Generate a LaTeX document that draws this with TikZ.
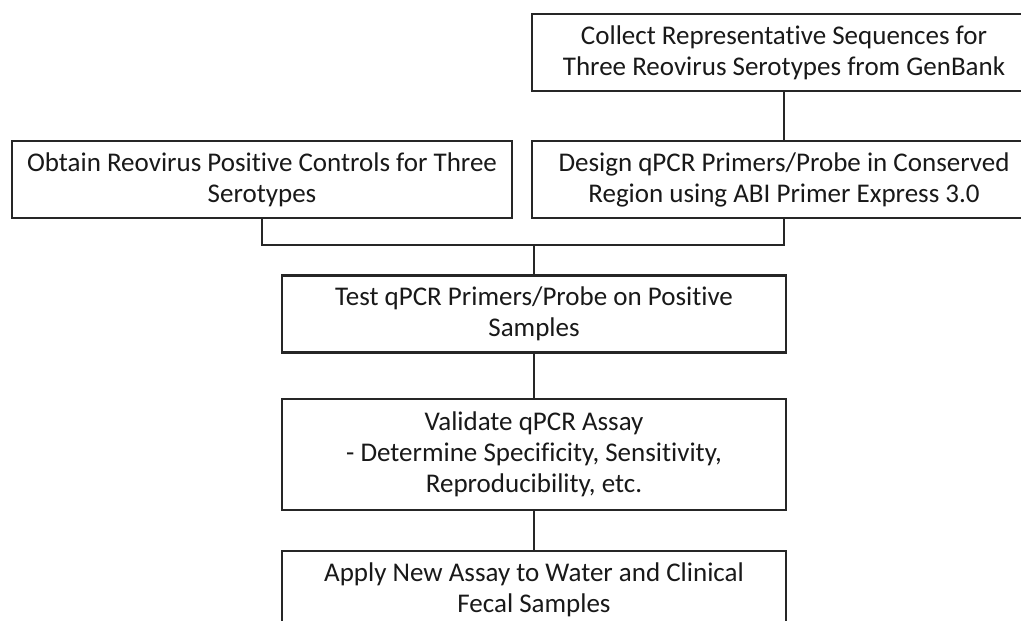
\documentclass[tikz,border=0pt]{standalone}
\usepackage{fontspec}
\setmainfont{Carlito}[Ligatures=NoCommon]
\begin{document}
\begin{tikzpicture}[x=1pt,y=-1pt,
  stepbox/.style={draw=black!85, line width=2.4pt, fill=white, rectangle,
    minimum width=504pt, minimum height=77pt, inner sep=0pt, align=center,
    font=\fontsize{27}{31}\selectfont, text=black!90},
  link/.style={draw=black!85, line width=2.4pt}]
  \useasboundingbox (0,0) rectangle (1021,621);
  \clip (0,0) rectangle (1021,621);

  % top-right: sequence collection, then primer design
  \node[stepbox] (collect) at (784,52.5)
    {Collect Representative Sequences for\\Three Reovirus Serotypes from GenBank};
  \node[stepbox] (design) at (784,179.5)
    {Design qPCR Primers/Probe in Conserved\\Region using ABI Primer Express 3.0};
  % left branch: positive controls
  \node[stepbox, minimum width=500pt] (obtain) at (262,179.5)
    {Obtain Reovirus Positive Controls for Three\\Serotypes};
  % main column
  \node[stepbox] (test) at (534,314)
    {Test qPCR Primers/Probe on Positive\\Samples};
  \node[stepbox, minimum height=111pt] (validate) at (534,454.5)
    {Validate qPCR Assay\\- Determine Specificity, Sensitivity,\\Reproducibility, etc.};
  \node[stepbox] (apply) at (534,589.5)
    {Apply New Assay to Water and Clinical\\Fecal Samples};

  \coordinate (join) at (534,245);

  \draw[link] (collect.south) -- (design.north);
  \draw[link] (obtain.south) |- (join);
  \draw[link] (design.south) |- (join);
  \draw[link] (join) -- (test.north);
  \draw[link] (test.south) -- (validate.north);
  \draw[link] (validate.south) -- (apply.north);
\end{tikzpicture}
\end{document}
